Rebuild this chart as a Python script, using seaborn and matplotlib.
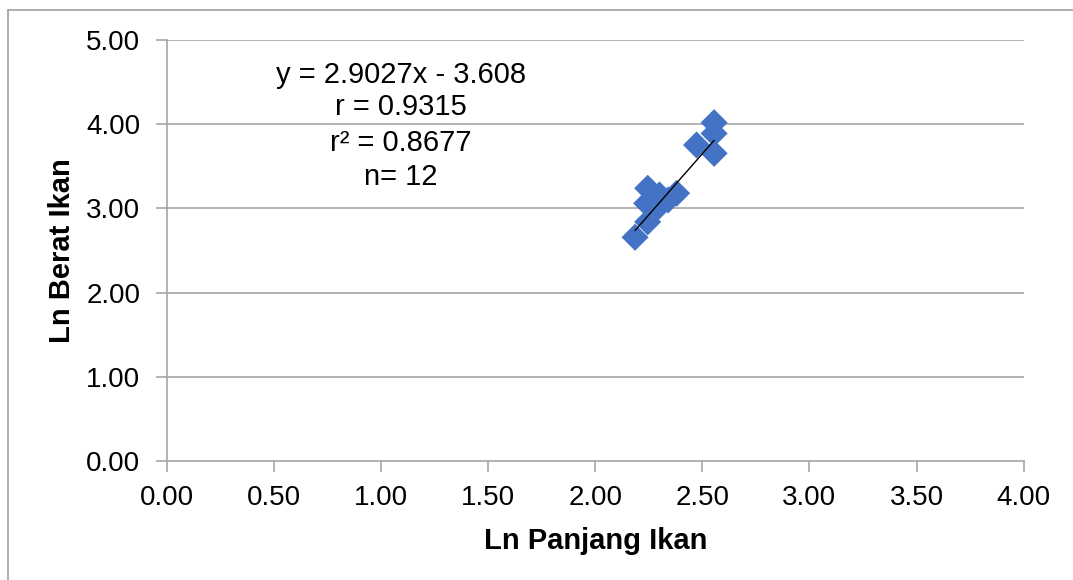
import numpy as np
import pandas as pd
import matplotlib
matplotlib.use("Agg")
import matplotlib.pyplot as plt
from matplotlib.lines import Line2D
import seaborn as sns

ln_panjang = [2.555, 2.555, 2.473, 2.555, 2.245, 2.380, 2.300, 2.240, 2.295, 2.340, 2.245, 2.186]
ln_berat = [4.018, 3.890, 3.753, 3.654, 3.239, 3.180, 3.160, 3.060, 3.020, 3.100, 2.840, 2.657]
slope = 2.9027
intercept = -3.608
stat_lines = ["y = 2.9027x - 3.608", "r = 0.9315", "r\u00b2 = 0.8677", "n= 12"]
x_ticks = [0, 0.5, 1.0, 1.5, 2.0, 2.5, 3.0, 3.5, 4.0]
y_ticks = [0, 1, 2, 3, 4, 5]

df = pd.DataFrame({"x": ln_panjang, "y": ln_berat})

sns.set_theme(style="white")
plt.rcParams["font.family"] = ["Liberation Sans", "DejaVu Sans"]

fig = plt.figure(figsize=(10.73, 5.80), dpi=100)
ax = fig.add_axes([166.7 / 1073, 1 - 461 / 580, (1023.7 - 166.7) / 1073, (461 - 40) / 580])

grid_c = "#a6a6a6"
for yv in y_ticks[1:]:
    ax.axhline(yv, color=grid_c, lw=1.2, zorder=0)

sns.scatterplot(data=df, x="x", y="y", marker="D", s=190, color="#4472C4",
                edgecolor="none", ax=ax, zorder=3)

xl = np.array([min(ln_panjang), max(ln_panjang)])
ax.plot(xl, slope * xl + intercept, color="black", lw=1.0, zorder=4)

ax.set_xlim(0, 4)
ax.set_ylim(0, 5)
ax.set_xticks(x_ticks)
ax.set_yticks(y_ticks)
ax.set_xticklabels([f"{v:.2f}" for v in x_ticks])
ax.set_yticklabels([f"{v:.2f}" for v in y_ticks])
ax.tick_params(axis="both", labelsize=20, labelcolor="black", length=8, width=1.2,
               direction="out", color=grid_c)
ax.tick_params(axis="x", bottom=True, pad=9)
ax.tick_params(axis="y", left=True, pad=11)

for s in ["top", "right"]:
    ax.spines[s].set_visible(False)
for s in ["left", "bottom"]:
    ax.spines[s].set_color(grid_c)
    ax.spines[s].set_linewidth(1.2)

ax.set_xlabel("Ln Panjang Ikan", fontsize=21, fontweight="bold", labelpad=12, color="black")
ax.set_ylabel("Ln Berat Ikan", fontsize=21, fontweight="bold", labelpad=7, color="black")

ys = [75, 107, 143, 177]
for t, yp in zip(stat_lines, ys):
    fig.text(401 / 1073, 1 - yp / 580, t, ha="center", va="center", fontsize=21, color="black")

fig.add_artist(Line2D([8 / 1073, 8 / 1073], [0, 1 - 10 / 580], transform=fig.transFigure,
                      color="#a0a0a0", lw=1.2))
fig.add_artist(Line2D([8 / 1073, 1], [1 - 10 / 580, 1 - 10 / 580], transform=fig.transFigure,
                      color="#a0a0a0", lw=1.2))

fig.savefig("out.png", dpi=100)
